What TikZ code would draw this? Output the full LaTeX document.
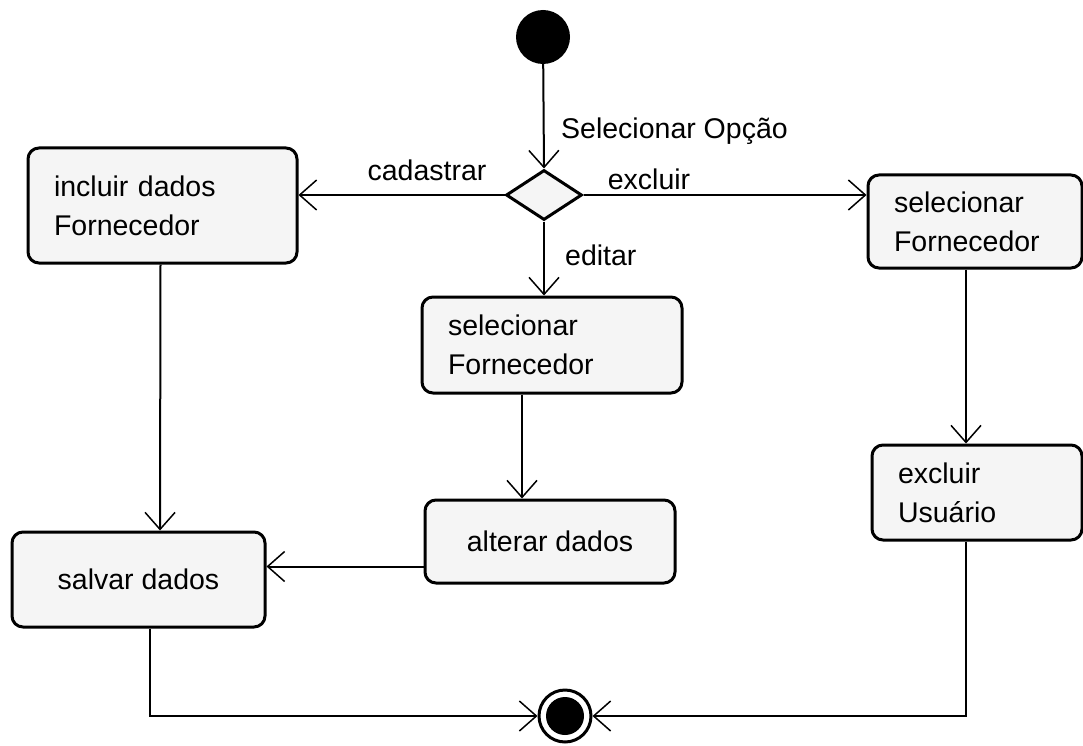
\documentclass[tikz,border=0pt]{standalone}
\usepackage{fontspec}
\setmainfont{Liberation Sans}
\usetikzlibrary{arrows.meta,shapes.geometric,calc}
\begin{document}
\begin{tikzpicture}[x=1pt,y=-1pt,
  font=\fontsize{28.5}{39}\selectfont,
  act/.style={draw, line width=3pt, rounded corners=11pt, fill=black!4, inner ysep=0pt, inner xsep=26pt, align=left},
  actc/.style={draw, line width=3pt, rounded corners=11pt, fill=black!4, inner sep=0pt, align=center},
  flow/.style={line width=2pt, -{Straight Barb[length=17pt,width=30pt,line width=1.5pt]}},
  lbl/.style={inner sep=0pt}
]
\useasboundingbox (0,0) rectangle (1083,746);

% start
\node[circle, fill=black, minimum size=54pt, inner sep=0pt] (start) at (543,37) {};
% decision
\node[diamond, draw, line width=3pt, fill=black!4, minimum width=76pt, minimum height=50pt, inner sep=0pt, aspect=1.5] (dec) at (544,195) {};

% activities
\node[act, text width=217pt, minimum height=115pt] (b1) at (162.5,205.5) {incluir dados\\Fornecedor};
\node[act, text width=208pt, minimum height=96pt] (ms) at (552,345) {selecionar\\Fornecedor};
\node[act, text width=162pt, minimum height=93pt] (rs) at (975,221.5) {selecionar\\Fornecedor};
\node[act, text width=158pt, minimum height=95pt] (eu) at (977,492.5) {excluir\\Usuário};
\node[actc, minimum width=250pt, minimum height=83pt] (ad) at (550,541.5) {alterar dados};
\node[actc, minimum width=253pt, minimum height=95pt] (sd) at (138.5,579.5) {salvar dados};

% end
\node[circle, draw, line width=3pt, fill=white, minimum size=52pt, inner sep=0pt,
  path picture={\fill[black] (path picture bounding box.center) circle (19pt);}] (end) at (565,716) {};

% connectors
\draw[flow] (start) -- (dec.north);
\draw[flow] (dec.west) -- (dec.west -| b1.east);
\draw[flow] (dec.east) -- (dec.east -| rs.west);
\draw[flow] (dec.south) -- (dec.south |- ms.north);
\draw[flow] ([xshift=-30pt]ms.south) -- ([xshift=-28pt]ad.north);
\draw[flow] ([xshift=-9pt]rs.south) -- ([xshift=-11pt]eu.north);
\draw[flow] ([xshift=-2pt]b1.south) -- ([xshift=21.5pt]sd.north);
\coordinate (adw) at ([yshift=-25pt]ad.west);
\draw[flow] (adw) -- (adw -| sd.east);
\draw[flow] ([xshift=11.5pt]sd.south) |- (end.west);
\draw[flow] ([xshift=-11pt]eu.south) |- (end.east);

% labels
\node[lbl, anchor=west] (lsel) at (561,131) {Selecionar Opção};
\node[lbl] (lcad) at (427,170) {cadastrar};
\node[lbl] (lexc) at (649,179) {excluir};
\node[lbl, anchor=west] (ledi) at (565,255) {editar};
\end{tikzpicture}
\end{document}
